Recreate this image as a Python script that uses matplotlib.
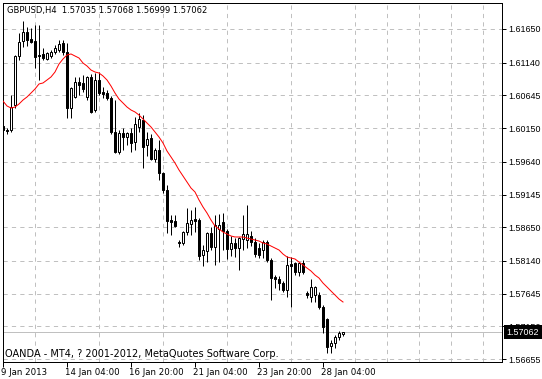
import matplotlib
matplotlib.use("Agg")
import matplotlib.pyplot as plt
import matplotlib.transforms as mtrans
import numpy as np

# ---- data (GBPUSD H4) ----
opens = [1.60182, 1.60121, 1.60121, 1.60500, 1.61241, 1.61468, 1.61605, 1.61499, 1.61468, 1.61256,
         1.61272, 1.61196, 1.61241, 1.61302, 1.61332, 1.61438, 1.61302, 1.60454, 1.60621, 1.60848,
         1.60833, 1.60621, 1.60924, 1.60424, 1.60878, 1.60697, 1.60681, 1.60606, 1.60091, 1.59788,
         1.60076, 1.60015, 1.60076, 1.59940, 1.60167, 1.60273, 1.59894, 1.60000, 1.59682, 1.59818,
         1.59470, 1.59213, 1.58759, 1.58744, 1.58426, 1.58411, 1.58577, 1.58698, 1.58774, 1.58759,
         1.58229, 1.58290, 1.58562, 1.58350, 1.58623, 1.58729, 1.58592, 1.58320, 1.58411, 1.58335,
         1.58471, 1.58456, 1.58517, 1.58426, 1.58335, 1.58305, 1.58426, 1.58154, 1.57896, 1.57866,
         1.57805, 1.57699, 1.58093, 1.58108, 1.57972, 1.58108, 1.57654, 1.57593, 1.57624, 1.57624,
         1.57442, 1.57260, 1.56852, 1.56897, 1.56988, 1.57035]
highs = [1.60227, 1.60152, 1.60651, 1.61256, 1.61589, 1.61771, 1.61680, 1.61665, 1.61711, 1.61711,
         1.61362, 1.61302, 1.61332, 1.61408, 1.61484, 1.61484, 1.61438, 1.60772, 1.60924, 1.60924,
         1.60954, 1.60939, 1.60969, 1.60984, 1.60999, 1.60772, 1.60727, 1.60636, 1.60575, 1.60121,
         1.60152, 1.60091, 1.60152, 1.60318, 1.60379, 1.60348, 1.60091, 1.60061, 1.59849, 1.59970,
         1.59486, 1.59289, 1.58835, 1.58835, 1.58456, 1.58592, 1.58941, 1.58910, 1.58956, 1.58789,
         1.58381, 1.58577, 1.58653, 1.58835, 1.58850, 1.58865, 1.58623, 1.58517, 1.58486, 1.58502,
         1.58835, 1.58986, 1.58592, 1.58486, 1.58411, 1.58456, 1.58456, 1.58184, 1.57926, 1.57911,
         1.57836, 1.58214, 1.58199, 1.58123, 1.58123, 1.58154, 1.57684, 1.57866, 1.57760, 1.57669,
         1.57472, 1.57276, 1.56943, 1.57018, 1.57079, 1.57068]
lows = [1.60076, 1.60061, 1.60091, 1.60454, 1.61181, 1.61378, 1.61393, 1.61438, 1.61060, 1.60878,
        1.61181, 1.61181, 1.61211, 1.61272, 1.61302, 1.61256, 1.60303, 1.60303, 1.60606, 1.60651,
        1.60697, 1.60575, 1.60379, 1.60394, 1.60651, 1.60606, 1.60575, 1.60061, 1.59773, 1.59758,
        1.59818, 1.59894, 1.59788, 1.59818, 1.60091, 1.59546, 1.59728, 1.59667, 1.59637, 1.59364,
        1.59168, 1.58562, 1.58532, 1.58653, 1.58350, 1.58381, 1.58532, 1.58532, 1.58577, 1.58154,
        1.58063, 1.58123, 1.58305, 1.58078, 1.58123, 1.58305, 1.58169, 1.58214, 1.58199, 1.58002,
        1.58305, 1.58335, 1.58365, 1.58199, 1.58184, 1.58184, 1.58123, 1.57548, 1.57730, 1.57699,
        1.57669, 1.57593, 1.57442, 1.57926, 1.57911, 1.57942, 1.57578, 1.57518, 1.57518, 1.57412,
        1.57049, 1.56746, 1.56746, 1.56822, 1.56943, 1.56999]
closes = [1.60121, 1.60106, 1.60469, 1.61241, 1.61453, 1.61605, 1.61484, 1.61453, 1.61226, 1.61241,
          1.61211, 1.61287, 1.61302, 1.61362, 1.61423, 1.61302, 1.60454, 1.60757, 1.60848, 1.60802,
          1.60742, 1.60924, 1.60394, 1.60878, 1.60681, 1.60666, 1.60606, 1.60091, 1.59788, 1.60076,
          1.60015, 1.60076, 1.59925, 1.60212, 1.60288, 1.59864, 1.59985, 1.59682, 1.59818, 1.59470,
          1.59213, 1.58744, 1.58729, 1.58668, 1.58411, 1.58577, 1.58714, 1.58759, 1.58744, 1.58214,
          1.58305, 1.58562, 1.58350, 1.58683, 1.58683, 1.58592, 1.58320, 1.58411, 1.58335, 1.58486,
          1.58547, 1.58547, 1.58426, 1.58244, 1.58229, 1.58426, 1.58154, 1.57881, 1.57866, 1.57805,
          1.57699, 1.58078, 1.58063, 1.57972, 1.58108, 1.57972, 1.57624, 1.57745, 1.57745, 1.57442,
          1.57139, 1.56837, 1.56897, 1.56988, 1.57049, 1.57062]
ma = [1.60560, 1.60485, 1.60454, 1.60469, 1.60515, 1.60575, 1.60621, 1.60681, 1.60742, 1.60818,
      1.60833, 1.60878, 1.60924, 1.60999, 1.61120, 1.61196, 1.61256, 1.61272, 1.61241, 1.61211,
      1.61135, 1.61090, 1.61029, 1.60999, 1.60984, 1.60939, 1.60878, 1.60787, 1.60681, 1.60590,
      1.60530, 1.60469, 1.60424, 1.60394, 1.60348, 1.60288, 1.60227, 1.60167, 1.60091, 1.60015,
      1.59925, 1.59803, 1.59713, 1.59622, 1.59516, 1.59425, 1.59334, 1.59243, 1.59183, 1.59062,
      1.58956, 1.58865, 1.58759, 1.58668, 1.58623, 1.58577, 1.58547, 1.58517, 1.58502, 1.58502,
      1.58502, 1.58486, 1.58471, 1.58456, 1.58441, 1.58411, 1.58396, 1.58365, 1.58335, 1.58305,
      1.58244, 1.58199, 1.58184, 1.58169, 1.58123, 1.58078, 1.58032, 1.57987, 1.57926, 1.57881,
      1.57805, 1.57745, 1.57684, 1.57624, 1.57563, 1.57518]

ytick_values = [1.61650, 1.61140, 1.60645, 1.60150, 1.59640, 1.59145,
                1.58650, 1.58140, 1.57645, 1.57150, 1.56655]
ytick_labels = ["1.61650", "1.61140", "1.60645", "1.60150", "1.59640", "1.59145",
                "1.58650", "1.58140", "1.57645", "1.57150", "1.56655"]
xtick_bars = [0, 16, 32, 48, 64, 80]
xtick_labels = ["9 Jan 2013", "14 Jan 04:00", "16 Jan 20:00",
                "21 Jan 04:00", "23 Jan 20:00", "28 Jan 04:00"]
title_text = "GBPUSD,H4  1.57035 1.57068 1.56999 1.57062"
footer_text = "OANDA - MT4, ? 2001-2012, MetaQuotes Software Corp."
bid = 1.57062
bid_label = "1.57062"

# ---- figure ----
W, H = 542, 379
plt.rcParams['font.family'] = ['DejaVu Sans']
fig = plt.figure(figsize=(W / 100, H / 100), dpi=100)
fig.patch.set_facecolor('white')
L, R, T, B = 2.5, 502.0, 2.5, 362.0
ax = fig.add_axes([L / W, (H - B) / H, (R - L) / W, (B - T) / H])
ax.set_facecolor('white')

PX = 0.72  # one pixel in points
o = np.array(opens); h = np.array(highs); l = np.array(lows); c = np.array(closes)
x = np.arange(len(o))
up = c >= o
bb = np.minimum(o, c)
bh = np.maximum(np.abs(c - o), 1e-7)

ax.vlines(x, l, h, color='black', lw=PX, zorder=3)
ax.bar(x[up], bh[up], bottom=bb[up], width=0.5, color='white',
       edgecolor='black', lw=PX, zorder=4)
ax.bar(x[~up], bh[~up], bottom=bb[~up], width=0.5, color='black',
       edgecolor='black', lw=PX, zorder=4)
ax.plot(x, ma, color='#ff0000', lw=PX, zorder=5)

ax.axhline(bid, color='#c0c0c0', lw=PX, zorder=2)

ax.set_xlim(-0.125, 124.75)
ax.set_ylim(1.56610, 1.62051)

# grid
ax.set_yticks(ytick_values)
ax.set_yticklabels(ytick_labels, family='Liberation Sans')
ax.set_xticks(xtick_bars)
ax.set_xticklabels(xtick_labels)
ax.set_xticks(np.arange(0, 125, 8), minor=True)
ax.grid(True, which='minor', axis='x', color='#c0c0c0', lw=PX,
        linestyle=(0, (4.2, 4.2)), zorder=1)
ax.grid(True, which='major', axis='y', color='#c0c0c0', lw=PX,
        linestyle=(0, (4.2, 4.2)), zorder=1)
ax.tick_params(axis='x', which='minor', length=0)

ax.yaxis.tick_right()
ax.tick_params(axis='y', which='major', direction='out', length=3.0, width=PX,
               pad=1.5, labelsize=6.4, colors='black')
ax.tick_params(axis='x', which='major', direction='out', length=3.6, width=PX,
               pad=1.0, labelsize=6.2, colors='black')
offset = mtrans.ScaledTranslation(-2 / 100, 0, fig.dpi_scale_trans)
for lbl in ax.get_xticklabels():
    lbl.set_ha('left')
    lbl.set_transform(lbl.get_transform() + offset)

for s in ax.spines.values():
    s.set_color('black')
    s.set_linewidth(PX)

# bid label box
ax.annotate(bid_label, xy=(1.0, bid), xycoords=('axes fraction', 'data'),
            xytext=(4.5, 0), textcoords='offset pixels', ha='left', va='center',
            fontsize=6.4, family='Liberation Sans', color='white', zorder=10,
            annotation_clip=False,
            bbox=dict(boxstyle='square,pad=0.3', fc='black', ec='black', lw=0))

fig.text(7 / W, 1 - 10.5 / H, title_text, fontsize=6.0, ha='left', va='center', color='black')
fig.text(5 / W, 1 - 354 / H, footer_text, fontsize=7, ha='left', va='center', color='black')

fig.savefig('out.png', dpi=100, facecolor='white')
